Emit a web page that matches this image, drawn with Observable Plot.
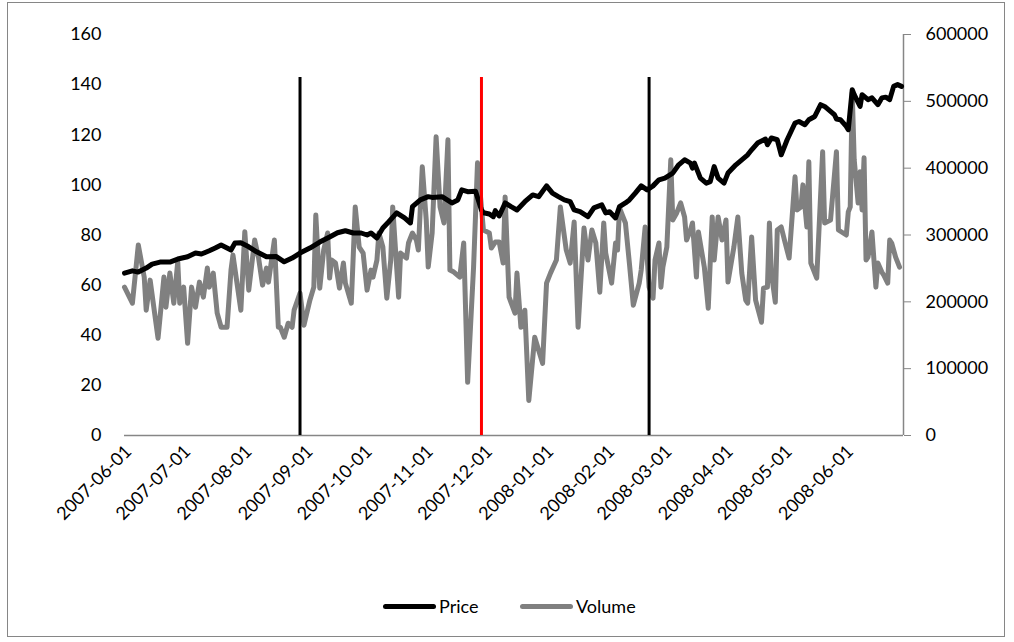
<!DOCTYPE html>
<html><head><meta charset="utf-8">
<script src="https://cdn.jsdelivr.net/npm/d3@7"></script>
<script src="https://cdn.jsdelivr.net/npm/@observablehq/plot@0.6"></script>
<style>
body{margin:0;background:#fff;font-family:Lato,"Open Sans",sans-serif;}
#wrap{position:relative;width:1014px;height:642px;overflow:hidden;background:#fff;}
#frame{position:absolute;left:7px;top:2px;width:998px;height:635px;border:1px solid #868686;box-sizing:border-box;pointer-events:none;}
#chart{position:absolute;left:0;top:0;}
#legend{position:absolute;left:0;top:590px;width:1014px;height:34px;font-size:18px;color:#000;}
#legend .sw{position:absolute;top:14px;width:53px;height:5px;border-radius:3px;}
#legend .lt{position:absolute;top:5px;line-height:22px;}
</style>
</head><body>
<div id="wrap">
  <div id="chart"></div>
  <div id="legend">
    <span class="sw" style="left:383px;background:#000"></span><span class="lt" style="left:439px">Price</span>
    <span class="sw" style="left:520px;background:#808080"></span><span class="lt" style="left:576px">Volume</span>
  </div>
  <div id="frame"></div>
</div>
<script>
// ---- data ----
const priceDates = [
"2007-05-30","2007-06-03","2007-06-06","2007-06-10","2007-06-13","2007-06-17","2007-06-22","2007-06-26",
"2007-07-01","2007-07-05","2007-07-08","2007-07-12","2007-07-15","2007-07-18","2007-07-21","2007-07-23","2007-07-25","2007-07-28",
"2007-08-01","2007-08-05","2007-08-10","2007-08-15","2007-08-19","2007-08-23","2007-08-27",
"2007-09-01","2007-09-06","2007-09-11","2007-09-15","2007-09-19","2007-09-23","2007-09-27","2007-09-30",
"2007-10-02","2007-10-05","2007-10-08","2007-10-11","2007-10-15","2007-10-19","2007-10-22","2007-10-23","2007-10-27","2007-10-31",
"2007-11-02","2007-11-07","2007-11-12","2007-11-15","2007-11-17","2007-11-20","2007-11-24","2007-11-27","2007-11-28",
"2007-12-01","2007-12-03","2007-12-04","2007-12-06","2007-12-09","2007-12-12","2007-12-15","2007-12-19","2007-12-23","2007-12-26","2007-12-30",
"2008-01-02","2008-01-05","2008-01-08","2008-01-11","2008-01-13","2008-01-16","2008-01-20","2008-01-23","2008-01-27","2008-01-29","2008-01-31",
"2008-02-03","2008-02-05","2008-02-08","2008-02-10","2008-02-13","2008-02-16","2008-02-19","2008-02-22","2008-02-25","2008-02-28",
"2008-03-03","2008-03-06","2008-03-09","2008-03-12","2008-03-13","2008-03-14","2008-03-17","2008-03-20","2008-03-22","2008-03-24","2008-03-26","2008-03-29","2008-03-31",
"2008-04-04","2008-04-07","2008-04-10","2008-04-12","2008-04-15","2008-04-19","2008-04-20","2008-04-22","2008-04-25","2008-04-27","2008-04-30",
"2008-05-04","2008-05-06","2008-05-09","2008-05-11","2008-05-14","2008-05-17","2008-05-19","2008-05-22","2008-05-24","2008-05-25","2008-05-27","2008-05-30","2008-05-31",
"2008-06-02","2008-06-03","2008-06-06","2008-06-07","2008-06-10","2008-06-12","2008-06-15","2008-06-17","2008-06-19","2008-06-21","2008-06-23","2008-06-25","2008-06-27"
];
const priceValues = [
64.8,65.7,65.2,66.8,68.4,69.2,69.2,70.4,
71.3,72.8,72.4,73.7,74.8,76,74.8,74,76.8,76.9,
75.3,73.3,71.3,71.4,69.3,70.8,72.8,
74.8,77.2,79.2,80.9,81.7,80.8,80.8,80,
80.8,78.8,82.8,85.3,88.8,86.8,84.8,91.3,94,95.3,
95,95.3,92.8,94,98,97.3,97.5,90,88.9,
88.4,87.3,89.7,87.6,92.8,91.3,90,93.3,96,95.3,99.6,
96.7,95.3,94,93.3,90,89.3,87.3,90.8,92,88.8,89.3,
86.8,91.3,92.8,94,96.7,99.6,98,99.6,102,102.7,
104.7,108,110,108.7,106.7,108.7,102.7,100.7,101.3,107.3,102.7,100.7,104.7,
108,110,112,114,116.7,118.3,116,118.7,118,112,118,
124.7,125.3,124,126,127.3,132,131.3,129.3,128,126.3,126,123.3,122,
138,136,131.3,136,134,134.7,132,134.7,135,134,139.3,140,139.3
];
const volumeDates = [
"2007-05-30","2007-06-03","2007-06-06","2007-06-09","2007-06-10","2007-06-12","2007-06-16","2007-06-19","2007-06-20","2007-06-22","2007-06-24","2007-06-26","2007-06-27","2007-06-29",
"2007-07-01","2007-07-03","2007-07-05","2007-07-07","2007-07-09","2007-07-11","2007-07-12","2007-07-14","2007-07-16","2007-07-18","2007-07-21","2007-07-23","2007-07-24","2007-07-28","2007-07-30",
"2007-08-01","2007-08-04","2007-08-06","2007-08-08","2007-08-10","2007-08-11","2007-08-14","2007-08-16","2007-08-17","2007-08-19","2007-08-21","2007-08-23","2007-08-24","2007-08-27","2007-08-29",
"2007-09-01","2007-09-03","2007-09-04","2007-09-06","2007-09-08","2007-09-10","2007-09-11","2007-09-12","2007-09-14","2007-09-16","2007-09-18","2007-09-19","2007-09-22","2007-09-24","2007-09-26","2007-09-28","2007-09-30",
"2007-10-02","2007-10-03","2007-10-05","2007-10-06","2007-10-08","2007-10-10","2007-10-12","2007-10-13","2007-10-16","2007-10-17","2007-10-20","2007-10-21","2007-10-23","2007-10-25","2007-10-26","2007-10-28","2007-10-30","2007-10-31",
"2007-11-02","2007-11-04","2007-11-06","2007-11-08","2007-11-10","2007-11-11","2007-11-13","2007-11-16","2007-11-18","2007-11-20","2007-11-23","2007-11-25","2007-11-28",
"2007-12-01","2007-12-02","2007-12-04","2007-12-06","2007-12-08","2007-12-09","2007-12-11","2007-12-14","2007-12-15","2007-12-17","2007-12-19","2007-12-21","2007-12-24","2007-12-28","2007-12-30",
"2008-01-01","2008-01-04","2008-01-06","2008-01-09","2008-01-11","2008-01-13","2008-01-15","2008-01-18","2008-01-20","2008-01-22","2008-01-24","2008-01-26","2008-01-28","2008-01-29",
"2008-02-01","2008-02-03","2008-02-04","2008-02-05","2008-02-08","2008-02-10","2008-02-12","2008-02-15","2008-02-16","2008-02-18","2008-02-20","2008-02-22","2008-02-23","2008-02-25","2008-02-26","2008-02-27","2008-02-29",
"2008-03-02","2008-03-03","2008-03-05","2008-03-07","2008-03-09","2008-03-10","2008-03-12","2008-03-13","2008-03-15","2008-03-16","2008-03-19","2008-03-21","2008-03-23","2008-03-24","2008-03-26","2008-03-28","2008-03-30","2008-03-31",
"2008-04-03","2008-04-05","2008-04-07","2008-04-09","2008-04-10","2008-04-12","2008-04-14","2008-04-17","2008-04-18","2008-04-20","2008-04-21","2008-04-22","2008-04-24","2008-04-25","2008-04-27","2008-04-29",
"2008-05-01","2008-05-04","2008-05-05","2008-05-07","2008-05-08","2008-05-10","2008-05-11","2008-05-12","2008-05-15","2008-05-18","2008-05-19","2008-05-22","2008-05-25","2008-05-26","2008-05-30","2008-05-31",
"2008-06-01","2008-06-02","2008-06-03","2008-06-05","2008-06-06","2008-06-07","2008-06-08","2008-06-09","2008-06-10","2008-06-12","2008-06-14","2008-06-15","2008-06-17","2008-06-18","2008-06-20","2008-06-21","2008-06-22","2008-06-24","2008-06-26"
];
const volumeValues = [
222000,198000,285000,237000,187500,232500,145500,237000,192000,243000,198000,260000,198000,222000,
138000,222000,192000,229500,207000,250500,222000,243000,183000,162000,162000,247500,270000,187500,305000,
217500,292500,265500,225000,250500,229500,292500,162000,162000,147000,168000,162000,187500,213000,165000,
202500,222000,330000,220500,277500,303000,235500,262500,258000,220500,258000,228000,198000,342000,282000,273000,217500,
247500,237000,262500,303000,282000,205500,262500,342000,207000,273000,265500,288000,303000,292500,277500,402000,322500,252000,
303000,447000,342000,318000,442500,247500,244500,237000,288000,79500,252000,408000,307500,
303000,280500,289500,289500,258000,357000,207000,183000,243000,162000,187500,52500,147000,108000,228000,
243000,262500,342000,277500,258000,319500,162000,310500,262500,307500,288000,214500,318000,273000,
228000,288000,277500,340500,318000,258000,195000,228000,247500,312000,222000,205500,262500,288000,222000,252000,282000,
412500,322500,333000,348000,327000,292500,307500,318000,237000,304500,252000,190500,327000,262500,327000,292500,322500,229500,
282000,327000,243000,202500,198000,297000,202500,169500,220500,222000,318000,243000,199500,307500,312000,288000,
265500,387000,337500,342000,375000,312000,409500,258000,235500,424500,318000,322500,424500,307500,300000,334500,
342000,513000,412500,348000,394500,337500,415500,262500,267000,304500,222000,258000,244500,240000,228000,292500,288000,267000,252000
];
const dateTicks = ["2007-06-01","2007-07-01","2007-08-01","2007-09-01","2007-10-01","2007-11-01","2007-12-01","2008-01-01","2008-02-01","2008-03-01","2008-04-01","2008-05-01","2008-06-01"];
const priceTicks = [0,20,40,60,80,100,120,140,160];
const volumeTicks = [0,100000,200000,300000,400000,500000,600000];
const blackMarkers = ["2007-08-27","2008-02-20"];
const redMarkers = ["2007-11-27"];
const xDomain = ["2007-05-30","2008-06-28"];
const markerTop = 142.8;

// ---- build ----
const parse = d3.utcParse("%Y-%m-%d");
const PMAX = 160, VMAX = 600000;
const toP = v => v * PMAX / VMAX;
const priceData = priceDates.map((d,i)=>({date:parse(d), value:priceValues[i]}));
const volData = volumeDates.map((d,i)=>({date:parse(d), value:toP(volumeValues[i])}));
const xd = xDomain.map(parse);

const chart = Plot.plot({
  width:1014, height:570,
  marginLeft:124, marginRight:111, marginTop:34, marginBottom:135,
  x:{type:"utc", domain:xd},
  y:{domain:[0,PMAX]},
  style:{fontFamily:"Lato, 'Open Sans', sans-serif", fontSize:"18px", color:"#000", background:"transparent", overflow:"visible"},
  marks:[
    Plot.axisY({anchor:"left", ticks:priceTicks, tickSize:0, tickPadding:23, label:null, tickFormat:d=>String(d)}),
    Plot.axisY({anchor:"right", ticks:volumeTicks.map(toP), tickFormat:d=>String(Math.round(d*VMAX/PMAX)), tickSize:7, tickPadding:15, stroke:"#868686", label:null}),
    Plot.axisX({ticks:dateTicks.map(parse), tickFormat:d3.utcFormat("%Y-%m-%d"), tickRotate:-45, tickSize:0, tickPadding:13, label:null}),
    Plot.ruleY([0], {stroke:"#868686", strokeWidth:1.5}),
    Plot.ruleX([xd[1]], {stroke:"#868686", strokeWidth:1.5}),
    Plot.line(volData, {x:"date", y:"value", stroke:"#808080", strokeWidth:5, strokeLinejoin:"round", strokeLinecap:"round"}),
    Plot.line(priceData, {x:"date", y:"value", stroke:"#000", strokeWidth:5, strokeLinejoin:"round", strokeLinecap:"round"}),
    Plot.ruleX(blackMarkers.map(parse), {y1:0, y2:markerTop, stroke:"#000", strokeWidth:3}),
    Plot.ruleX(redMarkers.map(parse), {y1:0, y2:markerTop, stroke:"#ff0000", strokeWidth:3})
  ]
});
document.getElementById("chart").appendChild(chart);
</script>
</body></html>
